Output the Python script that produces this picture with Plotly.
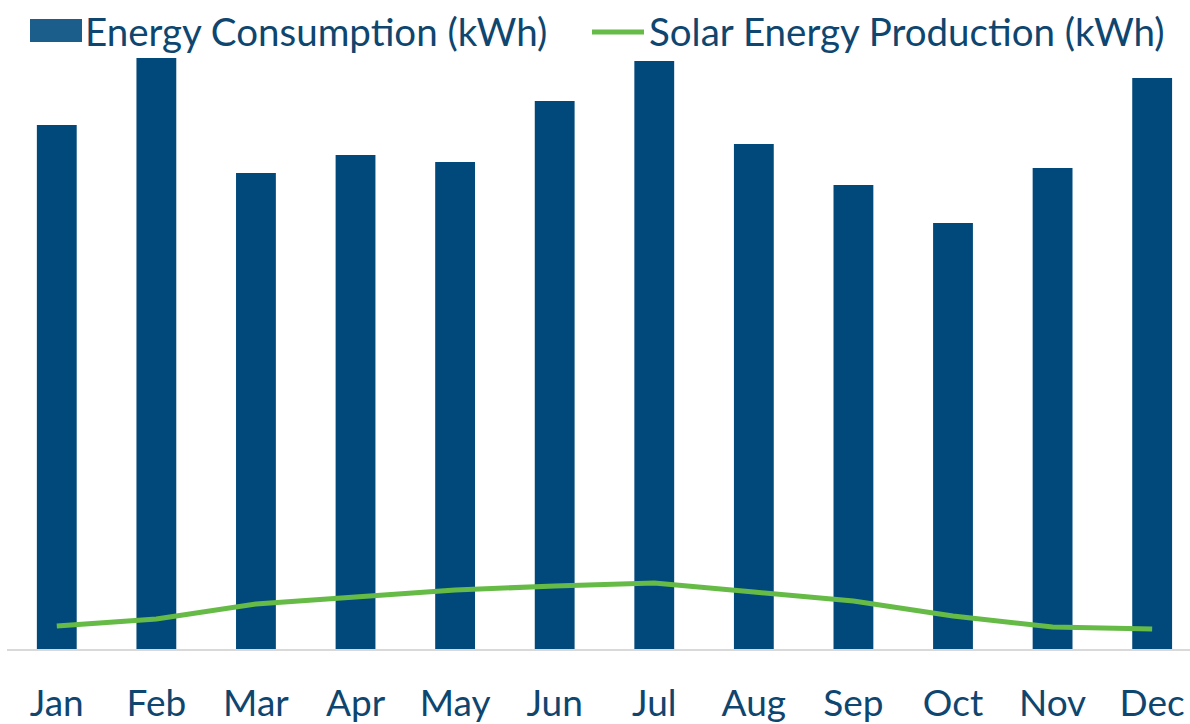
import plotly.graph_objects as go

months = ["Jan", "Feb", "Mar", "Apr", "May", "Jun", "Jul", "Aug", "Sep", "Oct", "Nov", "Dec"]
consumption = [1048, 1182, 952, 988, 974, 1096, 1176, 1010, 928, 852, 962, 1142]
solar = [46, 60, 90, 104, 118, 126, 132, 114, 96, 66, 44, 40]

bar_color = "#00497A"
line_color = "#66BB46"
text_color = "#0E4670"
font_family = "Lato, Calibri, Carlito, sans-serif"

fig = go.Figure()
fig.add_trace(go.Bar(x=months, y=consumption, name="Energy Consumption (kWh)",
                     marker=dict(color=bar_color, line=dict(width=0)), showlegend=False))
fig.add_trace(go.Scatter(x=months, y=solar, name="Solar Energy Production (kWh)", mode="lines",
                         line=dict(color=line_color, width=5), showlegend=False))

# manual legend (swatches + text)
fig.add_shape(type="rect", xref="paper", yref="paper", x0=(30-7)/1183, x1=(82-7)/1183,
              y0=1+(49-42)/600, y1=1+(49-19)/600, fillcolor="#1B5E8C", line=dict(width=0))
fig.add_annotation(xref="paper", yref="paper", x=(83-7)/1183, y=1+(49-31)/600, xanchor="left",
                   yanchor="middle", showarrow=False, text="Energy Consumption (kWh)",
                   font=dict(size=38.5, color=text_color, family=font_family))
fig.add_shape(type="line", xref="paper", yref="paper", x0=(592-7)/1183, x1=(644-7)/1183,
              y0=1+(49-32)/600, y1=1+(49-32)/600, line=dict(color=line_color, width=5))
fig.add_annotation(xref="paper", yref="paper", x=(647-7)/1183, y=1+(49-31)/600, xanchor="left",
                   yanchor="middle", showarrow=False, text="Solar Energy Production (kWh)",
                   font=dict(size=38.5, color=text_color, family=font_family))

fig.update_layout(
    width=1190, height=724,
    margin=dict(l=7, r=0, t=49, b=75),
    paper_bgcolor="white", plot_bgcolor="white",
    bargap=0.6,
    font=dict(family=font_family, color=text_color),
    xaxis=dict(range=[-0.5, 11.38], showline=True, linecolor="#D9D9D9", linewidth=2,
               showgrid=False, zeroline=False, ticks="", ticklabelstandoff=21, automargin=False,
               tickfont=dict(size=37, color=text_color, family=font_family)),
    yaxis=dict(range=[0, 1200], visible=False, showgrid=False, zeroline=False, automargin=False),
)

fig.write_html("out.html", config={"displayModeBar": False},
               post_script="document.body.style.margin='0';document.body.style.overflow='hidden';")
